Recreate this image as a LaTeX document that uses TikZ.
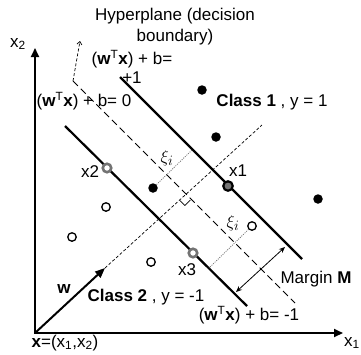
\documentclass[tikz,border=0pt]{standalone}
\usepackage{fontspec}
\setmainfont{Liberation Sans}
\usetikzlibrary{arrows.meta}
\begin{document}
\begin{tikzpicture}[x=1pt,y=-1pt,
  txt/.style={inner sep=0pt, font=\fontsize{17}{19}\selectfont},
  axis/.style={line width=2pt, {Triangle[length=9pt,width=8pt]}-{Triangle[length=9pt,width=8pt]}},
  marginline/.style={line width=2.2pt},
  hyper/.style={line width=0.8pt, dash pattern=on 7pt off 4pt},
  wdash/.style={line width=0.7pt, dash pattern=on 3pt off 2pt},
  slack/.style={line width=0.8pt, dash pattern=on 1pt off 1.2pt, black!55},
  c1/.style={circle, fill=black, inner sep=0pt, minimum size=9.5pt},
  c2/.style={circle, draw=black, line width=1.3pt, fill=white, inner sep=0pt, minimum size=8.5pt},
  sv/.style={circle, draw=black!55, line width=2.6pt, fill=white, inner sep=0pt, minimum size=8.5pt},
  svone/.style={circle, draw=black, line width=2.2pt, fill=black!55, inner sep=0pt, minimum size=9.5pt},
  xi/.style={inner sep=0pt, font=\fontsize{19}{19}\selectfont},
]
\useasboundingbox (0,0) rectangle (361,354);
% axes
\coordinate (O) at (35,333);
\coordinate (Ytop) at (35,48);
\coordinate (Xend) at (343,333);
\draw[axis] (Ytop) -- (O) -- (Xend);
% lines
\coordinate (P1a) at (120,77); \coordinate (P1b) at (302,259);
\coordinate (M1a) at (65,126); \coordinate (M1b) at (247,306);
\coordinate (H0a) at (73,81);  \coordinate (H0b) at (295,303);
\coordinate (Wtip) at (105,268); \coordinate (Wend) at (262,125);
\coordinate (Hlab) at (80,41);
\draw[marginline] (P1a) -- (P1b);
\draw[marginline] (M1a) -- (M1b);
\draw[hyper] (H0a) -- (H0b);
\draw[wdash, -{Straight Barb[length=3pt,width=5pt]}] (H0a) -- (Hlab);
\draw[wdash] (Wtip) -- (Wend);
\draw[line width=2pt, -{Triangle[length=10pt,width=8pt]}] (O) -- (Wtip);
% right angle
\coordinate (Ra) at (179.8,200.5);
\coordinate (Rc) at (184.8,205.5);
\coordinate (Rb) at (190.5,200);
\draw[line width=0.7pt] (Ra) -- (Rc) -- (Rb);
% margin arrow
\coordinate (Ma) at (236,292); \coordinate (Mb) at (285,247);
\draw[line width=0.8pt, {Stealth[length=6pt,width=5pt]}-{Stealth[length=6pt,width=5pt]}] (Ma) -- (Mb);
% slack lines
\node[c1] (d4) at (153,188) {};
\node[c2] (o4) at (252,226) {};
\coordinate (s1) at (192,150);
\coordinate (s2) at (209,268);
\draw[slack] (d4) -- (s1);
\draw[slack] (o4) -- (s2);
% class 1 points
\node[c1] (d1) at (202,90) {};
\node[c1] (d2) at (216,137) {};
\node[c1] (d3) at (318,199) {};
% class 2 points
\node[c2] (o1) at (106,207) {};
\node[c2] (o2) at (72,237) {};
\node[c2] (o3) at (151,262) {};
% support vectors
\node[svone] (x1) at (228,186) {};
\node[sv] (x2) at (107,168) {};
\node[sv] (x3) at (193,253) {};
% labels
\node[txt, align=center, font=\fontsize{17}{21}\selectfont] (hyplab) at (175,27) {Hyperplane (decision\\boundary)};
\node[txt, align=center] (plab) at (132,67) {(\textbf{w}\textsuperscript{T}\textbf{x}) + b=\\+1};
\node[txt] (zlab) at (84,101) {(\textbf{w}\textsuperscript{T}\textbf{x}) + b= 0};
\node[txt] (mlab) at (249,315) {(\textbf{w}\textsuperscript{T}\textbf{x}) + b= -1};
\node[txt] (cl1) at (272,102) {\textbf{Class 1} , y = 1};
\node[txt] (cl2) at (146,297) {\textbf{Class 2} , y = -1};
\node[txt] (marg) at (316,279) {Margin \textbf{M}};
\node[txt] (x1lab) at (238,171) {x1};
\node[txt] (x2lab) at (90,172) {x2};
\node[txt] (x3lab) at (187,270) {x3};
\node[txt] (wlab) at (64,289) {\textbf{w}};
\node[txt] (ax2) at (18,44) {x\textsubscript{2}};
\node[txt] (ax1) at (352,343) {x\textsubscript{1}};
\node[txt] (orig) at (65,343) {\textbf{x}=(x\textsubscript{1},x\textsubscript{2})};
\node[xi] (xi1) at (167,158) {$\xi_i$};
\node[xi] (xi2) at (233,223) {$\xi_i$};
\end{tikzpicture}
\end{document}
